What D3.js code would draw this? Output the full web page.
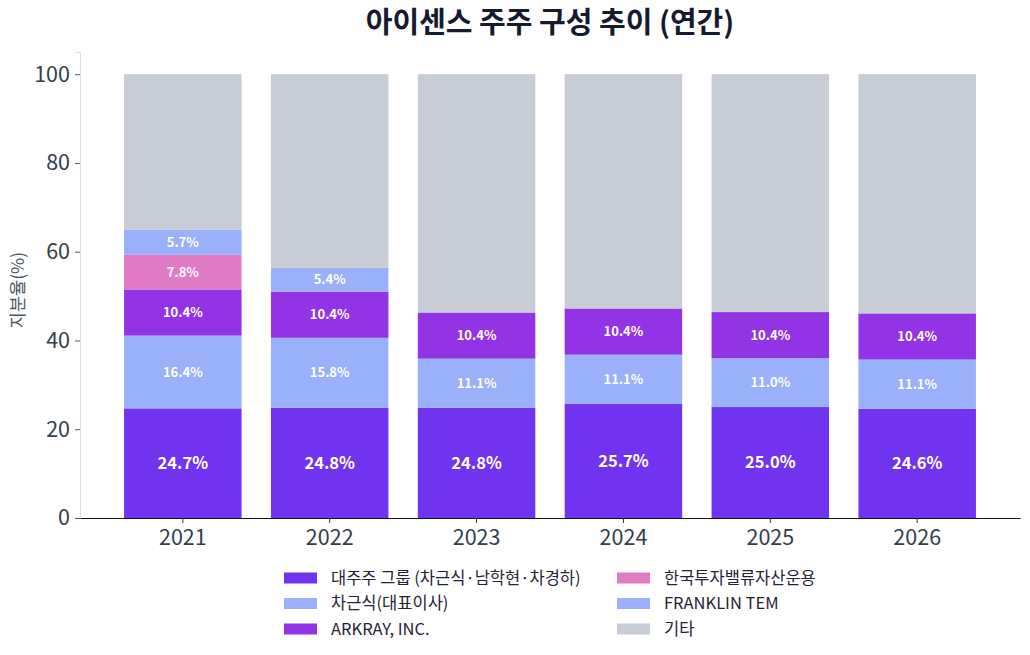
<!DOCTYPE html>
<html>
<head>
<meta charset="utf-8">
<script src="https://cdn.jsdelivr.net/npm/d3@7"></script>
<style>
  body { margin: 0; background: #fff; }
  text { font-family: "Noto Sans CJK KR", "Noto Sans", sans-serif; }
</style>
</head>
<body>
<svg id="chart" width="1030" height="655"></svg>
<script>
// data
const years = ["2021", "2022", "2023", "2024", "2025", "2026"];
const seriesNames = ["대주주 그룹 (차근식·남학현·차경하)", "차근식(대표이사)", "ARKRAY, INC.", "한국투자밸류자산운용", "FRANKLIN TEM", "기타"];
const seriesColors = ["#7033f0", "#9ab0fa", "#9333e6", "#e07bc4", "#9ab0fa", "#c8ccd6"];
const majorGroup = [24.7, 24.8, 24.8, 25.7, 25.0, 24.6];
const chaCEO = [16.4, 15.8, 11.1, 11.1, 11.0, 11.1];
const arkray = [10.4, 10.4, 10.4, 10.4, 10.4, 10.4];
const koreaInv = [7.8, 0, 0, 0, 0, 0];
const franklin = [5.7, 5.4, 0, 0, 0, 0];
const others = [35.0, 43.6, 53.7, 52.8, 53.6, 53.9];
const yTicks = [0, 20, 40, 60, 80, 100];

const seriesValues = [majorGroup, chaCEO, arkray, koreaInv, franklin, others];

const svg = d3.select("#chart");
const margin = {left: 80, right: 10, top: 52, bottom: 137};
const W = 1030, H = 655;

const x = d3.scaleBand()
  .domain(years)
  .range([margin.left, W - margin.right])
  .paddingInner(0.2)
  .paddingOuter(0.3);

const y = d3.scaleLinear()
  .domain([0, 105])
  .range([H - margin.bottom, margin.top]);

// stacked rows
let rows = years.map((yr, i) => {
  let r = {year: yr};
  seriesNames.forEach((s, k) => r[s] = seriesValues[k][i]);
  return r;
});
const stack = d3.stack().keys(seriesNames)(rows);

// title
svg.append("text")
  .attr("x", 550).attr("y", 33)
  .attr("text-anchor", "middle")
  .attr("font-size", 29).attr("font-weight", "bold")
  .attr("fill", "#151a2d")
  .text("아이센스 주주 구성 추이 (연간)");

// bars
stack.forEach((layer, k) => {
  let g = svg.append("g");
  g.selectAll("rect")
    .data(layer.filter(d => d[1] - d[0] > 0))
    .enter().append("rect")
    .attr("x", d => x(d.data.year))
    .attr("width", x.bandwidth())
    .attr("y", d => y(d[1]))
    .attr("height", d => y(d[0]) - y(d[1]))
    .attr("fill", seriesColors[k]);

  if (k < seriesNames.length - 1) {
    g.selectAll("text")
      .data(layer.filter(d => d[1] - d[0] > 0))
      .enter().append("text")
      .attr("x", d => x(d.data.year) + x.bandwidth() / 2)
      .attr("y", d => y((d[0] + d[1]) / 2))
      .attr("dy", "0.35em")
      .attr("text-anchor", "middle")
      .attr("font-weight", "bold")
      .attr("font-size", k == 0 ? 16.5 : 13)
      .attr("fill", "#fff")
      .text(d => (d[1] - d[0]).toFixed(1) + "%");
  }
});

// y axis
const yAxis = svg.append("g")
  .attr("transform", `translate(${margin.left},0)`)
  .call(d3.axisLeft(y).tickValues(yTicks).tickSize(5).tickPadding(5));
yAxis.select(".domain").attr("stroke", "#dedede");
yAxis.selectAll(".tick line").attr("stroke", "#555");
yAxis.selectAll(".tick text")
  .attr("font-size", 21.5).attr("fill", "#333d4f")
  .style("font-family", "'Noto Sans CJK KR', sans-serif");

// x axis
const xAxis = svg.append("g")
  .attr("transform", `translate(0,${y(0)})`)
  .call(d3.axisBottom(x).tickSize(5).tickPadding(7).tickSizeOuter(0));
xAxis.select(".domain").attr("stroke", "#111").attr("stroke-width", 1.2);
xAxis.selectAll(".tick line").attr("stroke", "#333");
xAxis.selectAll(".tick text")
  .attr("font-size", 21.5).attr("fill", "#333d4f")
  .style("font-family", "'Noto Sans CJK KR', sans-serif");

// y label
svg.append("text")
  .attr("transform", "translate(24,290) rotate(-90)")
  .attr("text-anchor", "middle")
  .attr("font-size", 17.5)
  .attr("fill", "#4b5563")
  .text("지분율(%)");

// legend
const legendX = [284, 617];
seriesNames.forEach((s, k) => {
  let col = k < 3 ? 0 : 1, row = k % 3;
  let g = svg.append("g")
    .attr("transform", `translate(${legendX[col]},${578 + row * 25.5})`);
  g.append("rect")
    .attr("x", 0).attr("y", -5.5)
    .attr("width", 33).attr("height", 11)
    .attr("fill", seriesColors[k]);
  g.append("text")
    .attr("x", 47).attr("y", 0)
    .attr("dy", "0.35em")
    .attr("font-size", 16.5)
    .attr("fill", "#1f2333")
    .text(s);
});
</script>
</body>
</html>
